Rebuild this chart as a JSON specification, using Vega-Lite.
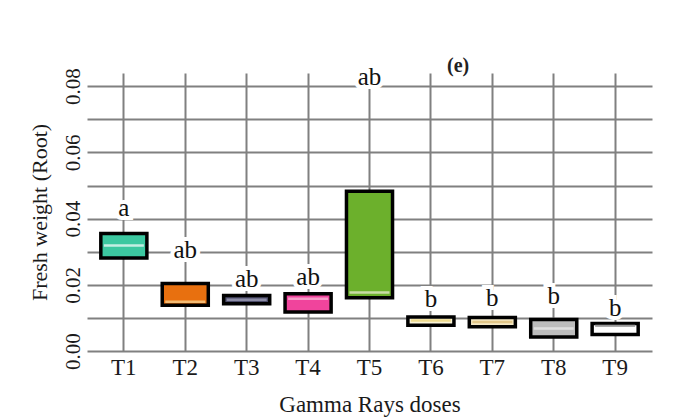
{
  "$schema": "https://vega.github.io/schema/vega-lite/v6.json",
  "width": 565,
  "height": 278,
  "autosize": {"type": "none"},
  "padding": {"left": 87, "top": 73, "right": 29, "bottom": 69},
  "background": "white",
  "config": {"view": {"stroke": null}},
  "title": {
    "text": "(e)",
    "anchor": "start",
    "frame": "group",
    "dx": 360,
    "offset": -11,
    "fontSize": 20,
    "fontWeight": "bold",
    "font": "Liberation Serif",
    "color": "#222"
  },
  "data": {
    "values": [
      {"trt": "T1", "q1": 0.0281, "q3": 0.0355, "median": 0.0319, "label": "a", "labelY": 0.0431, "fill": "#3cc8a0", "med": "#ffffff"},
      {"trt": "T2", "q1": 0.0138, "q3": 0.0204, "median": 0.0149, "label": "ab", "labelY": 0.0304, "fill": "#e8700f", "med": "#f6dca0"},
      {"trt": "T3", "q1": 0.0143, "q3": 0.0168, "median": 0.0155, "label": "ab", "labelY": 0.0217, "fill": "#4c4c6a", "med": "#a8a8c0"},
      {"trt": "T4", "q1": 0.0118, "q3": 0.0173, "median": 0.0158, "label": "ab", "labelY": 0.0223, "fill": "#f0449c", "med": "#f8c0dc"},
      {"trt": "T5", "q1": 0.0161, "q3": 0.0483, "median": 0.0177, "label": "ab", "labelY": 0.0827, "fill": "#6cb02c", "med": "#f0f0d8"},
      {"trt": "T6", "q1": 0.0078, "q3": 0.0103, "median": 0.0092, "label": "b", "labelY": 0.0156, "fill": "#faf4d8", "med": "#e8d070"},
      {"trt": "T7", "q1": 0.0073, "q3": 0.0101, "median": 0.0088, "label": "b", "labelY": 0.0159, "fill": "#f4e8c4", "med": "#d8b870"},
      {"trt": "T8", "q1": 0.0042, "q3": 0.0095, "median": 0.0068, "label": "b", "labelY": 0.0165, "fill": "#bdbdbd", "med": "#f0f0f0"},
      {"trt": "T9", "q1": 0.0050, "q3": 0.0083, "median": 0.0076, "label": "b", "labelY": 0.0129, "fill": "#ffffff", "med": "#888888"}
    ]
  },
  "encoding": {
    "x": {
      "field": "trt",
      "type": "nominal",
      "sort": ["T1","T2","T3","T4","T5","T6","T7","T8","T9"],
      "scale": {"paddingInner": 0, "paddingOuter": 0.1},
      "axis": {
        "title": "Gamma Rays doses",
        "labelAngle": 0,
        "grid": true,
        "bandPosition": 0.5,
        "gridColor": "#808080",
        "gridWidth": 2,
        "gridOpacity": 1,
        "domain": false,
        "ticks": false,
        "labelPadding": 5,
        "labelFont": "Liberation Serif",
        "labelFontSize": 23,
        "labelColor": "#1a1a1a",
        "titleFont": "Liberation Serif",
        "titleFontSize": 23,
        "titleFontWeight": "normal",
        "titleColor": "#1a1a1a",
        "titlePadding": 14
      }
    },
    "y": {
      "field": "q1",
      "type": "quantitative",
      "scale": {"domain": [0, 0.084], "nice": false},
      "axis": {
        "title": "Fresh weight (Root)",
        "values": [0, 0.01, 0.02, 0.03, 0.04, 0.05, 0.06, 0.07, 0.08],
        "labelExpr": "round(datum.value * 100) % 2 === 0 ? format(datum.value, '.2f') : ''",
        "grid": true,
        "gridColor": "#808080",
        "gridWidth": 2,
        "gridOpacity": 1,
        "domain": false,
        "ticks": false,
        "labelAngle": 270,
        "labelAlign": "center",
        "labelBaseline": "bottom",
        "labelPadding": 4,
        "labelFont": "Liberation Serif",
        "labelFontSize": 21,
        "labelColor": "#1a1a1a",
        "titleFont": "Liberation Serif",
        "titleFontSize": 22,
        "titleFontWeight": "normal",
        "titleColor": "#1a1a1a",
        "titlePadding": 11
      }
    }
  },
  "layer": [
    {
      "mark": {"type": "bar", "stroke": "#000", "strokeWidth": 3.5, "width": {"band": 0.75}},
      "encoding": {
        "y2": {"field": "q3"},
        "fill": {"field": "fill", "type": "nominal", "scale": null}
      }
    },
    {
      "mark": {"type": "tick", "thickness": 2.5, "size": 40},
      "encoding": {
        "y": {"field": "median", "type": "quantitative"},
        "color": {"field": "med", "type": "nominal", "scale": null}
      }
    },
    {
      "mark": {"type": "text", "font": "Liberation Serif", "fontSize": 25, "stroke": "white", "strokeWidth": 8, "fill": "white", "baseline": "middle"},
      "encoding": {
        "y": {"field": "labelY", "type": "quantitative"},
        "text": {"field": "label"}
      }
    },
    {
      "mark": {"type": "text", "font": "Liberation Serif", "fontSize": 25, "fill": "#111", "baseline": "middle"},
      "encoding": {
        "y": {"field": "labelY", "type": "quantitative"},
        "text": {"field": "label"}
      }
    }
  ]
}
